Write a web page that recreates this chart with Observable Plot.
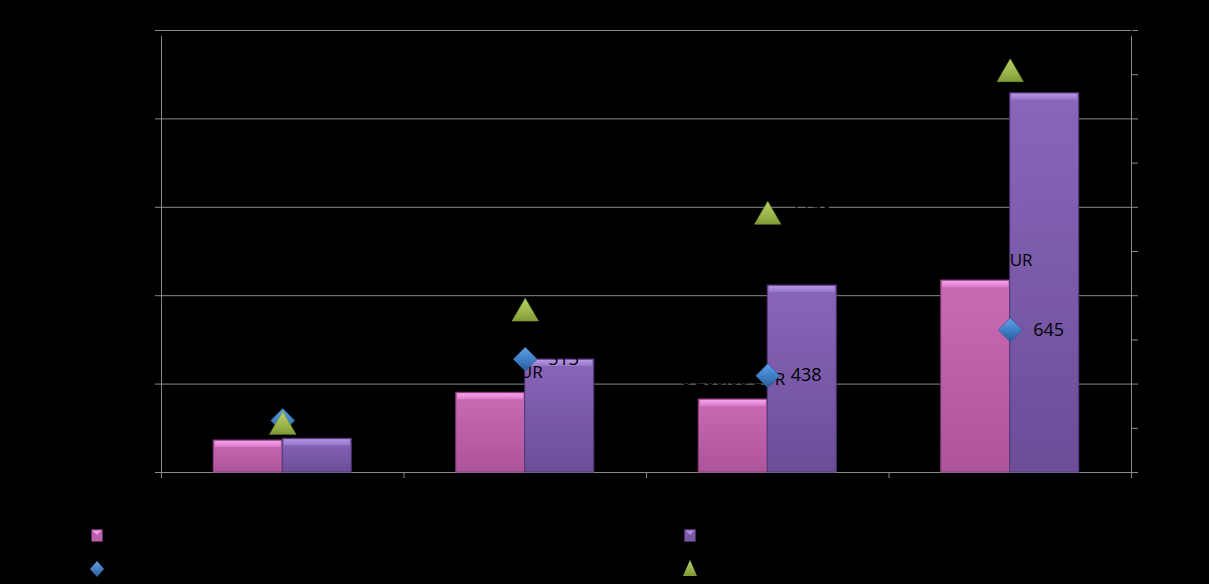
<!DOCTYPE html>
<html><head><meta charset="utf-8">
<script src="https://cdn.jsdelivr.net/npm/d3@7"></script>
<script src="https://cdn.jsdelivr.net/npm/@observablehq/plot@0.6"></script>
<style>
html,body{margin:0;padding:0;background:#000;}
#chart{width:1209px;height:584px;position:relative;background:#000;font-family:"Open Sans",sans-serif;overflow:hidden;}
#legend{position:absolute;left:0;top:500px;width:1209px;height:84px;}
.item{position:absolute;display:flex;align-items:center;color:#000;font-size:14px;gap:8px;}
</style></head><body><div id="chart"><div id="plot"></div><div id="legend"></div></div>
<script>
// ---- data ----
const categories = ["2009", "2010", "2011", "2012"];
const seriesNames = ["Umsatz netto", "Umsatz brutto", "Bestellungen", "Kunden"];
const pinkValues = [3620, 9015, 8260, 21720];
const purpleValues = [3810, 12780, 21150, 42900];
const diamondValues = [235, 513, 438, 645];
const triangleValues = [207, 720, 1158, 1803];
const leftTicks = [0, 10000, 20000, 30000, 40000, 50000];
const rightTicks = [0, 200, 400, 600, 800, 1000, 1200, 1400, 1600, 1800, 2000];

// ---- derived tables ----
const K = leftTicks[leftTicks.length - 1] / rightTicks[rightTicks.length - 1];
const BW = 0.2845; // bar width in category units
const gray = "#8a8a8a";
const eur = d3.formatLocale({decimal: ",", thousands: " ", grouping: [3], currency: ["", " EUR"]}).format("$,.2f");
const pinkBars = categories.map((c, i) => ({i, cat: c, value: pinkValues[i]}));
const purpleBars = categories.map((c, i) => ({i, cat: c, value: purpleValues[i]}));
const diamonds = categories.map((c, i) => ({i, cat: c, value: diamondValues[i]}));
const triangles = categories.map((c, i) => ({i, cat: c, value: triangleValues[i]}));

function defs() {
  const d = d3.create("svg:defs");
  const grad = (id, stops) => {
    const g = d.append("linearGradient").attr("id", id).attr("x1", 0).attr("y1", 0).attr("x2", 0).attr("y2", 1);
    stops.forEach(([o, c]) => g.append("stop").attr("offset", o).attr("stop-color", c));
  };
  grad("pinkGrad", [[0, "#C96AB5"], [1, "#AE549B"]]);
  grad("pinkTop", [[0, "#F7A2EC"], [1, "#D77BC6"]]);
  grad("purpleGrad", [[0, "#8A66BA"], [1, "#6C4D98"]]);
  grad("purpleTop", [[0, "#B796E2"], [1, "#9475C8"]]);
  grad("blueGrad", [[0, "#62A2E6"], [0.5, "#3F80C6"], [1, "#2B5C9A"]]);
  grad("greenGrad", [[0, "#B8D06A"], [0.6, "#9AB64A"], [1, "#7E9A36"]]);
  return d.node();
}

const chart = Plot.plot({
  width: 1209,
  height: 500,
  marginTop: 30,
  marginBottom: 28,
  marginLeft: 161,
  marginRight: 78,
  style: {background: "#000", color: "#000", fontFamily: "Open Sans, sans-serif", fontSize: "14px"},
  x: {domain: [0, categories.length], axis: null, label: null},
  y: {domain: [0, leftTicks[leftTicks.length - 1]], axis: null, label: null},
  marks: [
    defs,
    Plot.gridY({ticks: leftTicks, stroke: gray, strokeOpacity: 1}),
    Plot.ruleX([0, categories.length], {y1: 0, y2: leftTicks[leftTicks.length - 1], stroke: gray, insetBottom: -6}),
    Plot.axisX({ticks: d3.range(categories.length + 1), tickSize: 6, tickFormat: () => "", stroke: gray, label: null}),
    Plot.axisX({ticks: categories.map((c, i) => i + 0.5), tickSize: 0, tickPadding: 12, tickFormat: v => categories[Math.floor(v)], fill: "#000", fontSize: 16, label: null}),
    Plot.axisY({anchor: "left", ticks: leftTicks, tickSize: 6, stroke: gray, fill: "#000", tickFormat: d => eur(d), label: null}),
    Plot.axisY({anchor: "right", ticks: rightTicks.map(v => v * K), tickSize: 6, stroke: gray, fill: "#000", tickFormat: v => String(Math.round(v / K)), label: null}),
    // bars
    Plot.rect(pinkBars, {x1: d => d.i + 0.5 - BW, x2: d => d.i + 0.5, y1: 0, y2: "value", fill: "url(#pinkGrad)", stroke: "#8A3E7C", strokeWidth: 1}),
    Plot.rect(pinkBars, {x1: d => d.i + 0.5 - BW, x2: d => d.i + 0.5, y1: "value", y2: "value", insetBottom: -7, insetLeft: 1.5, insetRight: 1.5, insetTop: 1, fill: "url(#pinkTop)"}),
    Plot.rect(purpleBars, {x1: d => d.i + 0.5, x2: d => d.i + 0.5 + BW, y1: 0, y2: "value", fill: "url(#purpleGrad)", stroke: "#523878", strokeWidth: 1}),
    Plot.rect(purpleBars, {x1: d => d.i + 0.5, x2: d => d.i + 0.5 + BW, y1: "value", y2: "value", insetBottom: -7, insetLeft: 1.5, insetRight: 1.5, insetTop: 1, fill: "url(#purpleTop)"}),
    // bar labels (black)
    Plot.text(pinkBars, {x: d => d.i + 0.5 - BW / 2, y: "value", text: d => eur(d.value), dy: -20, fontSize: 17, fill: "#000"}),
    // markers
    Plot.dot(diamonds, {x: d => d.i + 0.5, y: d => d.value * K, symbol: "diamond2", r: 10.8, fill: "url(#blueGrad)", stroke: "#2A5A94", strokeWidth: 0.6}),
    Plot.dot(triangles, {x: d => d.i + 0.5, y: d => d.value * K, symbol: "triangle", r: 9.8, fill: "url(#greenGrad)", stroke: "#7A9434", strokeWidth: 0.6}),
    Plot.text(diamonds, {x: d => d.i + 0.5, y: d => d.value * K, text: d => String(d.value), dx: 23, textAnchor: "start", fontSize: 18, fill: "#000"}),
    Plot.text(triangles, {x: d => d.i + 0.5, y: d => d.value * K, text: d => String(d.value), dx: 23, dy: -8, textAnchor: "start", fontSize: 18, fill: "#000"})
  ]
});
document.getElementById("plot").appendChild(chart);

// ---- legend ----
const legendItems = [
  {name: seriesNames[0], kind: "bar", c1: "#F29BE6", c2: "#BE5FA9", left: 91, top: 28},
  {name: seriesNames[1], kind: "bar", c1: "#B08EDC", c2: "#7A58A8", left: 684, top: 28},
  {name: seriesNames[2], kind: "diamond", c1: "#62A2E6", c2: "#2B5C9A", left: 89, top: 59},
  {name: seriesNames[3], kind: "triangle", c1: "#B8D06A", c2: "#7E9A36", left: 682, top: 58}
];
const legend = d3.select("#legend");
legendItems.forEach((it, k) => {
  const div = legend.append("div").attr("class", "item").style("left", it.left + "px").style("top", it.top + "px");
  const svg = div.append("svg").attr("width", 16).attr("height", 18);
  const g = svg.append("defs").append("linearGradient").attr("id", "lg" + k).attr("x1", 0).attr("y1", 0).attr("x2", 0).attr("y2", 1);
  g.append("stop").attr("offset", 0).attr("stop-color", it.c1);
  g.append("stop").attr("offset", 1).attr("stop-color", it.c2);
  if (it.kind === "bar") {
    svg.append("rect").attr("x", 0.5).attr("y", 0.5).attr("width", 11).attr("height", 12).attr("fill", it.c2).attr("stroke", "#553366").attr("stroke-width", 0.6);
    svg.append("path").attr("d", "M1.5,1.5 L10.5,1.5 L6,6 Z").attr("fill", it.c1);
  } else if (it.kind === "diamond") {
    svg.append("path").attr("d", "M8,1 L15,9 L8,17 L1,9 Z").attr("fill", "url(#lg" + k + ")");
  } else {
    svg.append("path").attr("d", "M8,1 L15,17 L1,17 Z").attr("fill", "url(#lg" + k + ")");
  }
  div.append("span").text(it.name);
});
</script>
</body></html>
